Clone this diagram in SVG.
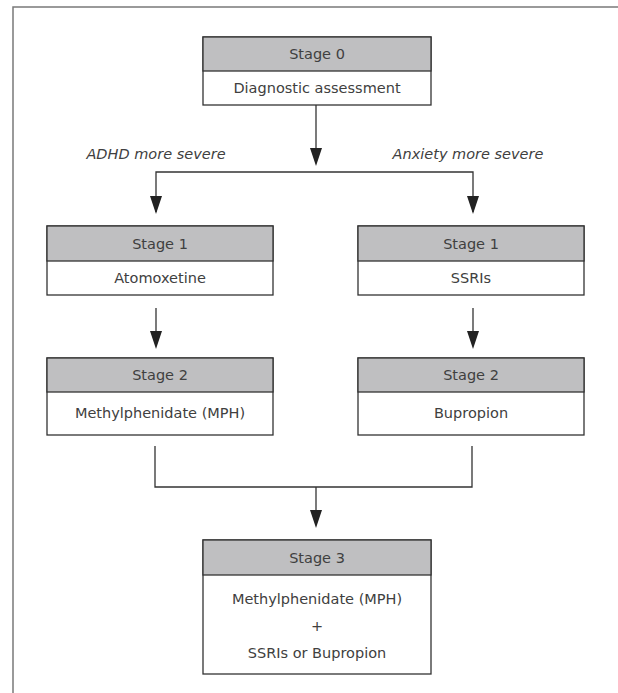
<svg xmlns="http://www.w3.org/2000/svg" width="618" height="693" viewBox="0 0 618 693">
  <defs>
    <style>
      .frame { stroke: #7a7a7a; stroke-width: 1.5; fill: none; }
      .head { fill: #bfbfc1; stroke: #333; stroke-width: 1.3; }
      .body { fill: #fff; stroke: #333; stroke-width: 1.3; }
      .lbl { font-family: "DejaVu Sans", "Liberation Sans", sans-serif; font-size: 14.5px; fill: #404040; text-anchor: middle; }
      .cond { font-family: "DejaVu Sans", "Liberation Sans", sans-serif; font-size: 14.5px; font-style: italic; fill: #404040; text-anchor: middle; }
      .line { stroke: #333; stroke-width: 1.3; fill: none; }
      .tip { fill: #222; }
    </style>
  </defs>

  <!-- page frame: top and left rules only -->
  <path class="frame" d="M13,693 V7 H618"/>

  <g id="connectors">
    <!-- Stage 0 to split -->
    <line class="line" x1="316" y1="105" x2="316" y2="150"/>
    <path class="tip" d="M310,148 L322,148 L316,166 Z"/>
    <polyline class="line" points="156,212 156,172 473,172 473,212"/>
    <path class="tip" d="M150,196 L162,196 L156,214 Z"/>
    <path class="tip" d="M467,196 L479,196 L473,214 Z"/>
    <!-- Stage 1 to Stage 2 -->
    <line class="line" x1="156" y1="308" x2="156" y2="334"/>
    <path class="tip" d="M150,331 L162,331 L156,349 Z"/>
    <line class="line" x1="473" y1="308" x2="473" y2="334"/>
    <path class="tip" d="M467,331 L479,331 L473,349 Z"/>
    <!-- Stage 2 merge to Stage 3 -->
    <polyline class="line" points="155,446 155,487 472,487 472,446"/>
    <line class="line" x1="316" y1="487" x2="316" y2="512"/>
    <path class="tip" d="M310,510 L322,510 L316,528 Z"/>
  </g>

  <text class="cond" x="156" y="159">ADHD more severe</text>
  <text class="cond" x="468" y="159">Anxiety more severe</text>

  <g id="stage0">
    <rect class="body" x="203" y="37" width="228" height="68"/>
    <rect class="head" x="203" y="37" width="228" height="34"/>
    <text class="lbl" x="317" y="59">Stage 0</text>
    <text class="lbl" x="317" y="93">Diagnostic assessment</text>
  </g>

  <g id="stage1-adhd">
    <rect class="body" x="47" y="226" width="226" height="69"/>
    <rect class="head" x="47" y="226" width="226" height="35"/>
    <text class="lbl" x="160" y="249">Stage 1</text>
    <text class="lbl" x="160" y="283">Atomoxetine</text>
  </g>

  <g id="stage1-anxiety">
    <rect class="body" x="358" y="226" width="226" height="69"/>
    <rect class="head" x="358" y="226" width="226" height="35"/>
    <text class="lbl" x="471" y="249">Stage 1</text>
    <text class="lbl" x="471" y="283">SSRIs</text>
  </g>

  <g id="stage2-adhd">
    <rect class="body" x="47" y="358" width="226" height="77"/>
    <rect class="head" x="47" y="358" width="226" height="34"/>
    <text class="lbl" x="160" y="380">Stage 2</text>
    <text class="lbl" x="160" y="418">Methylphenidate (MPH)</text>
  </g>

  <g id="stage2-anxiety">
    <rect class="body" x="358" y="358" width="226" height="77"/>
    <rect class="head" x="358" y="358" width="226" height="34"/>
    <text class="lbl" x="471" y="380">Stage 2</text>
    <text class="lbl" x="471" y="418">Bupropion</text>
  </g>

  <g id="stage3">
    <rect class="body" x="203" y="540" width="228" height="134"/>
    <rect class="head" x="203" y="540" width="228" height="35"/>
    <text class="lbl" x="317" y="563">Stage 3</text>
    <text class="lbl" x="317" y="604">Methylphenidate (MPH)</text>
    <text class="lbl" x="317" y="631">+</text>
    <text class="lbl" x="317" y="658">SSRIs or Bupropion</text>
  </g>
</svg>
